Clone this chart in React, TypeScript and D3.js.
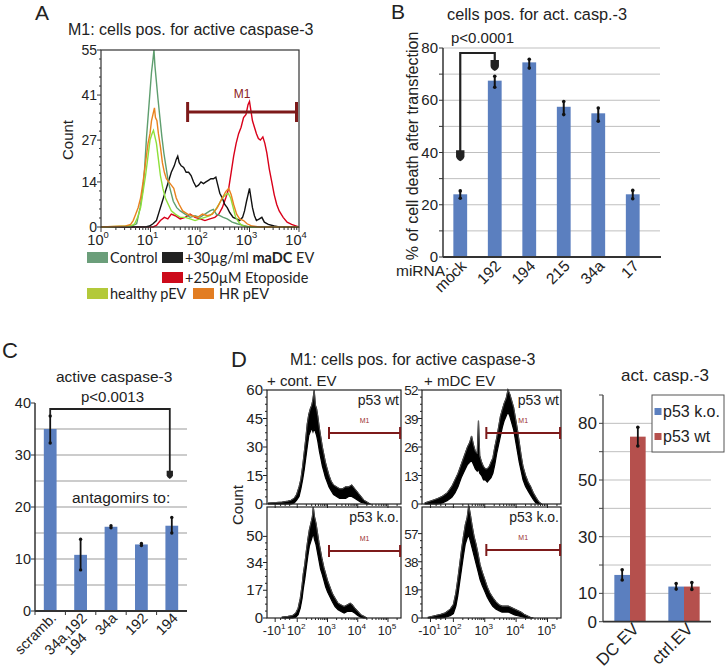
import React from "react";
import * as d3 from "d3";

const FONT = "'Liberation Sans', Arial, sans-serif";
const LFONT = "Lato, 'Open Sans', sans-serif";

// ---------- Panel A data (x in log10 units, y = count) ----------
const aYTicks = [0, 14, 27, 41, 55];
const aXExps = [0, 1, 2, 3, 4];
const aControl: [number, number][] = [[0,0],[0.5,0.2],[0.65,0.5],[0.72,1],[0.79,6],[0.84,11],[0.88,18],[0.92,28],[0.96,36],[0.99,42],[1.02,48],[1.05,52],[1.07,55],[1.09,50],[1.12,45],[1.15,40],[1.19,34],[1.23,28],[1.27,23],[1.31,19],[1.36,14],[1.41,11],[1.46,8],[1.53,6],[1.6,5],[1.7,4],[1.8,3],[1.9,3.5],[2.0,3],[2.1,4],[2.2,5],[2.27,5.5],[2.33,4],[2.4,3.5],[2.47,3],[2.55,2.5],[2.65,1.5],[2.75,1],[2.87,0.5],[3.0,0],[4,0]];
const aHealthy: [number, number][] = [[0,0],[0.6,0.3],[0.68,1],[0.74,3],[0.8,6],[0.85,11],[0.9,16],[0.95,22],[0.99,27],[1.03,29],[1.06,30],[1.09,28],[1.12,26],[1.16,21],[1.2,16],[1.25,12],[1.3,9],[1.36,7],[1.42,5],[1.5,4],[1.6,3],[1.7,3],[1.8,2.5],[1.9,2],[2.0,2.5],[2.1,3],[2.2,3.5],[2.3,5],[2.38,7],[2.45,9],[2.52,10],[2.57,10.5],[2.62,9],[2.67,6],[2.72,3],[2.78,1.5],[2.85,0.5],[2.95,0],[4,0]];
const aHR: [number, number][] = [[0,0],[0.5,0.3],[0.6,0.8],[0.65,2],[0.7,4],[0.75,6],[0.8,9],[0.85,14],[0.9,20],[0.95,26],[0.99,29],[1.02,33],[1.05,35],[1.08,37],[1.1,34],[1.13,33],[1.16,29],[1.2,25],[1.24,20],[1.28,17],[1.32,15],[1.37,14],[1.42,13],[1.47,12],[1.52,9],[1.58,7],[1.65,5],[1.75,4],[1.85,3.5],[1.95,3],[2.05,4],[2.15,3.5],[2.25,4],[2.35,6],[2.45,9],[2.52,11],[2.58,12],[2.63,10],[2.68,7],[2.74,4],[2.8,2.5],[2.88,2],[2.95,1],[3.05,0.3],[3.2,0],[4,0]];
const aMaDC: [number, number][] = [[0,0],[0.9,0],[0.98,0.3],[1.05,1],[1.12,2],[1.18,5],[1.24,8],[1.3,11],[1.36,14],[1.42,17],[1.48,19],[1.52,21],[1.55,22],[1.58,20],[1.62,19],[1.67,18.5],[1.72,17],[1.77,17],[1.82,16],[1.87,14],[1.92,12.5],[1.97,13],[2.02,14],[2.07,13.5],[2.12,14],[2.17,14.5],[2.22,15],[2.27,15],[2.32,15.5],[2.36,13],[2.4,10.5],[2.45,9],[2.5,7],[2.55,6],[2.6,4.5],[2.67,3],[2.74,2.5],[2.8,2],[2.86,3],[2.9,5],[2.94,8],[2.97,10],[3.0,12],[3.03,9],[3.06,6],[3.1,3.5],[3.14,2],[3.2,2.5],[3.25,3],[3.3,1.5],[3.38,0.8],[3.5,0.3],[3.6,0],[4,0]];
const aEtoposide: [number, number][] = [[0,0],[1.05,0],[1.12,0.5],[1.2,2],[1.28,3],[1.35,2.5],[1.42,4],[1.5,3.5],[1.6,2.5],[1.7,3],[1.8,4],[1.9,3],[2.0,2.5],[2.1,2],[2.2,2.5],[2.3,3],[2.38,4],[2.45,6],[2.52,9],[2.58,12],[2.63,17],[2.68,22],[2.73,26],[2.78,29],[2.83,31],[2.88,34],[2.93,35],[2.97,38],[3.0,39],[3.03,36],[3.06,33],[3.1,31],[3.14,29],[3.18,27.5],[3.22,27],[3.27,28],[3.31,26],[3.35,23],[3.4,18],[3.45,14],[3.5,10],[3.55,7],[3.6,5],[3.68,3],[3.76,1.5],[3.85,0.8],[3.95,0.3],[4,0]];
const aM1 = [1.75, 3.95];

// ---------- Panel B ----------
const bCategories = ["mock", "192", "194", "215", "34a", "17"];
const bValues = [24, 67.5, 74.5, 57.5, 55, 24];
const bErrLow = [22.5, 65, 72.3, 54.5, 52, 22.3];
const bErrHigh = [25.3, 69.2, 75.7, 59.5, 57, 25.5];
const bYTicks = [0, 20, 40, 60, 80];

// ---------- Panel C ----------
const cCategories = [["scramb."], ["34a,192", "194"], ["34a"], ["192"], ["194"]];
const cValues = [35, 10.8, 16.2, 12.8, 16.4];
const cErrLow = [32.3, 7.9, 16.0, 12.6, 15.0];
const cErrHigh = [37.5, 13.8, 16.4, 13.0, 18.0];
const cYTicks = [0, 10, 20, 30, 40];

// ---------- Panel D histograms: [display-log position, low, high] ----------
const dXTickPos = [1.27, 2, 3, 4, 5];
const dXTickBase = ["-10", "10", "10", "10", "10"];
const dXTickExp = ["1", "2", "3", "4", "5"];
const dContWt: [number, number, number][] = [[1.05,0,0.5],[1.3,0,0.8],[1.5,0,1],[1.7,0,1.5],[1.8,0,2],[1.9,0.5,3],[1.98,2,5],[2.06,4,9],[2.12,8,13],[2.18,13,20],[2.23,18,27],[2.28,24,34],[2.33,30,42],[2.38,36,47],[2.43,38,50],[2.48,40,52],[2.52,38,55],[2.56,40,60],[2.6,38,52],[2.64,36,50],[2.68,33,46],[2.73,28,40],[2.78,24,35],[2.83,20,30],[2.88,17,26],[2.93,14,22],[2.98,12,19],[3.05,9,15],[3.12,7,12],[3.2,5,10],[3.3,4,9],[3.4,3,8],[3.5,3,8],[3.6,3,9],[3.7,4,9],[3.8,4,10],[3.9,3,8],[4.0,2,6],[4.1,1,4],[4.2,0.5,2],[4.3,0,1],[4.4,0,0]];
const dContKo: [number, number, number][] = [[1.5,0,0.5],[1.7,0,1],[1.85,0,1.5],[1.95,0.5,3],[2.03,2,6],[2.1,6,12],[2.16,12,20],[2.2,18,27],[2.25,24,33],[2.3,31,41],[2.35,38,48],[2.4,44,54],[2.45,47,58],[2.5,50,62],[2.53,52,68],[2.57,48,62],[2.62,45,58],[2.67,40,52],[2.72,35,46],[2.77,30,41],[2.82,27,36],[2.88,23,31],[2.94,19,27],[3.0,16,23],[3.08,13,19],[3.16,10,15],[3.25,7,12],[3.35,5,9],[3.45,4,8],[3.55,3,7],[3.65,4,8],[3.75,4,9],[3.82,4,8],[3.9,3,6],[4.0,1.5,4],[4.1,0.5,2],[4.2,0,1],[4.3,0,0]];
const dMdcWt: [number, number, number][] = [[1.1,0,0.5],[1.3,0,1.5],[1.5,0,2.5],[1.65,0.5,3.5],[1.8,1.5,5],[1.95,3,8],[2.05,5,11],[2.15,8,14],[2.25,12,18],[2.35,15,22],[2.45,18,26],[2.52,19,28],[2.58,20,31],[2.64,18,27],[2.7,16,24],[2.76,15,23],[2.8,16,38],[2.84,14,22],[2.9,13,19],[2.96,11,17],[3.02,11,16],[3.08,10,16],[3.14,11,17],[3.2,12,19],[3.26,14,21],[3.32,18,26],[3.38,23,30],[3.44,27,35],[3.5,31,40],[3.56,35,43],[3.62,38,46],[3.68,40,48],[3.74,42,52],[3.8,40,50],[3.86,37,47],[3.92,34,44],[3.98,29,39],[4.04,24,34],[4.1,19,28],[4.16,15,22],[4.22,11,17],[4.3,8,13],[4.38,6,10],[4.46,4,8],[4.55,2,5],[4.63,0.5,3],[4.72,0,1],[4.8,0,0]];
const dMdcKo: [number, number, number][] = [[1.2,0,0.5],[1.4,0,1.5],[1.6,0,2.5],[1.75,0.5,3.5],[1.9,1.5,6],[2.0,3,9],[2.08,8,17],[2.14,15,26],[2.2,24,36],[2.26,33,46],[2.32,42,55],[2.38,50,63],[2.44,54,68],[2.49,56,76],[2.54,52,70],[2.6,47,62],[2.66,42,55],[2.72,37,50],[2.78,32,44],[2.85,26,36],[2.92,22,31],[3.0,18,26],[3.08,14,21],[3.16,11,17],[3.25,8,14],[3.35,6,11],[3.45,5,9],[3.55,4,8],[3.65,4,8],[3.75,4,8],[3.85,3,7],[3.95,2,6],[4.05,1.5,5],[4.15,1,4],[4.25,0.5,2.5],[4.35,0,1.5],[4.45,0,0.5],[4.55,0,0]];
const dM1 = [3.05, 5.4];

// ---------- Panel D bar chart ----------
const dGroups = ["DC EV", "ctrl.EV"];
const dSeries = ["p53 k.o.", "p53 wt"];
const dKo = [16.5, 12.4];
const dWt = [65.3, 12.4];
const dKoErr: [number, number][] = [[14.7, 18.3], [11.5, 13.5]];
const dWtErr: [number, number][] = [[62, 68.6], [11.4, 13.8]];
const dTickValues = [0, 10, 30, 50, 70];
const dTickLabels = ["0", "10", "30", "50", "80"];

const BLUE = "#5b7fbf";
const RED = "#b5504d";
const M1C = "#7d1a1a";

function Arrow({ x, y, s = 1 }: { x: number; y: number; s?: number }) {
  return (
    <path
      transform={`translate(${x},${y}) scale(${s})`}
      d="M-4.2,-11 L4.2,-11 L4.2,-5 Q4,-2 0,0 Q-4,-2 -4.2,-5 Z"
      fill="#222"
    />
  );
}

function Sup({ x, y, base, exp, size, anchor = "middle", family = FONT }: any) {
  return (
    <text x={x} y={y} fontSize={size} fontFamily={family} textAnchor={anchor} fill="#222">
      <tspan>{base}</tspan>
      <tspan dy={-size * 0.45} fontSize={size * 0.65}>{exp}</tspan>
    </text>
  );
}

function PanelA() {
  const x = d3.scaleLinear().domain([0, 4]).range([101, 299]);
  const y = d3.scaleLinear().domain([0, 55]).range([227, 50]);
  const line = d3.line<[number, number]>().x((d) => x(d[0])).y((d) => y(Math.max(0, d[1])));
  const minorX: number[] = [];
  for (let e = 0; e < 4; e++) for (let k = 2; k <= 9; k++) minorX.push(e + Math.log10(k));
  const minorY: number[] = [];
  for (let i = 0; i < aYTicks.length - 1; i++) {
    const a = aYTicks[i], b = aYTicks[i + 1];
    for (let j = 1; j < 5; j++) minorY.push(a + ((b - a) * j) / 5);
  }
  const series = [
    { d: aEtoposide, c: "#d9001a" },
    { d: aMaDC, c: "#111" },
    { d: aControl, c: "#5e9e6e" },
    { d: aHealthy, c: "#8ee03a" },
    { d: aHR, c: "#e8821e" },
  ];
  return (
    <g>
      <text x={35} y={20} fontSize={21} fontFamily={FONT} fill="#222">A</text>
      <text x={68} y={35} fontSize={16} fontFamily={FONT} fill="#222">M1: cells pos. for active caspase-3</text>
      {series.map((s, i) => (
        <path key={i} d={line(s.d) || ""} fill="none" stroke={s.c} strokeWidth={1.4} />
      ))}
      <rect x={101} y={50} width={198} height={177} fill="none" stroke="#333" strokeWidth={1.2} />
      {aYTicks.map((t) => (
        <g key={t}>
          <line x1={97} x2={101} y1={y(t)} y2={y(t)} stroke="#333" />
          <text x={97} y={y(t) + 5} fontSize={14} fontFamily={FONT} textAnchor="end" fill="#222">{t}</text>
        </g>
      ))}
      {minorY.map((t, i) => (
        <line key={i} x1={99} x2={101} y1={y(t)} y2={y(t)} stroke="#333" />
      ))}
      {aXExps.map((e) => (
        <g key={e}>
          <line x1={x(e)} x2={x(e)} y1={227} y2={232} stroke="#333" />
          <Sup x={x(e) - 3} y={245} base="10" exp={e} size={14.5} />
        </g>
      ))}
      {minorX.map((t, i) => (
        <line key={i} x1={x(t)} x2={x(t)} y1={227} y2={230} stroke="#333" />
      ))}
      <text x={73} y={140} fontSize={15} fontFamily={FONT} textAnchor="middle" transform="rotate(-90,73,140)" fill="#222">Count</text>
      {/* M1 marker */}
      <line x1={x(aM1[0])} x2={x(aM1[1])} y1={112} y2={112} stroke={M1C} strokeWidth={3} />
      <line x1={x(aM1[0])} x2={x(aM1[0])} y1={102} y2={122} stroke={M1C} strokeWidth={3} />
      <line x1={x(aM1[1])} x2={x(aM1[1])} y1={102} y2={122} stroke={M1C} strokeWidth={3} />
      <text x={(x(aM1[0]) + x(aM1[1])) / 2} y={98} fontSize={12} fontFamily={FONT} textAnchor="middle" fill="#8b2020">M1</text>
      {/* Legend */}
      <g fontFamily={LFONT} fontSize={14.5} fill="#222">
        <rect x={87} y={252} width={21} height={11} fill="#6b9e7a" />
        <text x={110} y={263}>Control</text>
        <rect x={162} y={252} width={21} height={11} fill="#222" />
        <text x={185} y={263}>
          <tspan>+30µg/ml </tspan>
          <tspan fontWeight="bold">maDC</tspan>
          <tspan> EV</tspan>
        </text>
        <rect x={162} y={272} width={21} height={11} fill="#cc0a1a" />
        <text x={185} y={283}>+250µM</text>
        <text x={245} y={283}>Etoposide</text>
        <rect x={87} y={288} width={21} height={11} fill="#b3c93a" />
        <text x={110} y={299}>healthy pEV</text>
        <rect x={193} y={288} width={21} height={11} fill="#e27d22" />
        <text x={219} y={299}>HR pEV</text>
      </g>
    </g>
  );
}

function PanelB() {
  const x = d3.scaleBand().domain(bCategories).range([443, 650]).paddingInner(0.6).paddingOuter(0.3);
  const y = d3.scaleLinear().domain([0, 80]).range([257, 48]);
  const grid = d3.range(10, 81, 10);
  const cx = (c: string) => (x(c) as number) + x.bandwidth() / 2;
  return (
    <g>
      <text x={391} y={19} fontSize={21} fontFamily={FONT} fill="#222">B</text>
      <text x={447} y={20} fontSize={16.3} fontFamily={FONT} fill="#222">cells pos. for act. casp.-3</text>
      {grid.map((g) => (
        <line key={g} x1={443} x2={660} y1={y(g)} y2={y(g)} stroke="#bfbfbf" strokeWidth={1} />
      ))}
      {bCategories.map((c, i) => (
        <g key={c}>
          <rect x={x(c)} y={y(bValues[i])} width={x.bandwidth()} height={y(0) - y(bValues[i])} fill={BLUE} />
          <line x1={cx(c)} x2={cx(c)} y1={y(bErrLow[i])} y2={y(bErrHigh[i])} stroke="#111" strokeWidth={2} />
          <circle cx={cx(c)} cy={y(bErrLow[i])} r={1.8} fill="#111" />
          <circle cx={cx(c)} cy={y(bErrHigh[i])} r={1.8} fill="#111" />
          <text
            transform={`translate(${cx(c) + 7},${267}) rotate(-45)`}
            fontSize={15.5}
            fontFamily={FONT}
            textAnchor="end"
            fill="#222"
          >{c}</text>
        </g>
      ))}
      <line x1={443} x2={443} y1={48} y2={257} stroke="#333" strokeWidth={1.5} />
      <line x1={443} x2={661} y1={257} y2={257} stroke="#333" strokeWidth={1.8} />
      {d3.range(0, 81, 10).map((t) => (
        <line key={t} x1={439} x2={443} y1={y(t)} y2={y(t)} stroke="#333" />
      ))}
      {bYTicks.map((t) => (
        <text key={t} x={438} y={y(t) + 5} fontSize={15} fontFamily={FONT} textAnchor="end" fill="#222">{t}</text>
      ))}
      <text
        transform={`translate(418,146) rotate(-90)`}
        fontSize={16}
        fontFamily={FONT}
        textAnchor="middle"
        fill="#222"
      >% of cell death after transfection</text>
      <text x={396} y={276} fontSize={15.5} fontFamily={FONT} fill="#222">miRNA:</text>
      {/* significance bracket */}
      <path
        d={`M${cx("mock")},${y(bValues[0]) - 35} V53 H${cx("192")} V${62}`}
        fill="none"
        stroke="#222"
        strokeWidth={2.2}
      />
      <Arrow x={cx("mock")} y={y(bValues[0]) - 33} />
      <Arrow x={cx("192")} y={71} />
      <text x={451} y={43} fontSize={15} fontFamily={FONT} fill="#222">p&lt;0.0001</text>
    </g>
  );
}

function PanelC() {
  const keys = cCategories.map((c) => c.join(" "));
  const x = d3.scaleBand().domain(keys).range([35, 187]).paddingInner(0.58).paddingOuter(0.29);
  const y = d3.scaleLinear().domain([0, 40]).range([611, 403]);
  const cx = (k: string) => (x(k) as number) + x.bandwidth() / 2;
  return (
    <g>
      <text x={2} y={358} fontSize={22} fontFamily={FONT} fill="#222">C</text>
      <text x={56} y={382} fontSize={15.5} fontFamily={FONT} fill="#222">active caspase-3</text>
      <text x={81} y={402} fontSize={15} fontFamily={FONT} fill="#222">p&lt;0.0013</text>
      {d3.range(5, 36, 5).map((g) => (
        <line key={g} x1={35} x2={187} y1={y(g)} y2={y(g)} stroke="#999" strokeWidth={1} />
      ))}
      {keys.map((k, i) => (
        <g key={k}>
          <rect x={x(k)} y={y(cValues[i])} width={x.bandwidth()} height={y(0) - y(cValues[i])} fill={BLUE} />
          <line x1={cx(k)} x2={cx(k)} y1={y(cErrLow[i])} y2={y(cErrHigh[i])} stroke="#111" strokeWidth={1.8} />
          <circle cx={cx(k)} cy={y(cErrLow[i])} r={1.7} fill="#111" />
          <circle cx={cx(k)} cy={y(cErrHigh[i])} r={1.7} fill="#111" />
          <text
            transform={`translate(${cx(k) + 7},${619}) rotate(-45)`}
            fontSize={14.5}
            fontFamily={FONT}
            textAnchor="end"
            fill="#222"
          >
            {cCategories[i].map((line, j) => (
              <tspan key={j} x={j === 0 ? 0 : -14} dy={j === 0 ? 0 : 14}>{line}</tspan>
            ))}
          </text>
        </g>
      ))}
      <line x1={35} x2={35} y1={403} y2={611} stroke="#333" strokeWidth={1.5} />
      <line x1={35} x2={187} y1={611} y2={611} stroke="#333" strokeWidth={1.8} />
      {d3.range(0, 41, 10).map((t) => (
        <line key={t} x1={31} x2={35} y1={y(t)} y2={y(t)} stroke="#333" />
      ))}
      {keys.map((k, i) => (
        <line key={i} x1={(x(k) as number) - (x.step() - x.bandwidth()) / 2} x2={(x(k) as number) - (x.step() - x.bandwidth()) / 2} y1={611} y2={615} stroke="#333" />
      ))}
      {cYTicks.map((t) => (
        <text key={t} x={31} y={y(t) + 5} fontSize={14.5} fontFamily={FONT} textAnchor="end" fill="#222">{t}</text>
      ))}
      <text x={72} y={503} fontSize={15.5} fontFamily={FONT} fill="#222">antagomirs to:</text>
      <path
        d={`M${cx(keys[0])},${y(cErrHigh[0]) - 1} V409 H${cx(keys[4]) - 2} V${471}`}
        fill="none"
        stroke="#222"
        strokeWidth={1.8}
      />
      <Arrow x={cx(keys[4]) - 2} y={479} s={0.75} />
    </g>
  );
}

function Hist({ x0, x1, yTop, yBot, yMax, yTicks, data, label, tickSize, showXLabels, m1Y }: any) {
  const x = d3.scaleLinear().domain([1, 5.43]).range([x0, x1]);
  const y = d3.scaleLinear().domain([0, yMax]).range([yBot, yTop]);
  const area = d3
    .area<[number, number, number]>()
    .x((d) => x(d[0]))
    .y0((d) => y(d[1]))
    .y1((d) => y(d[2]));
  const hi = d3.line<[number, number, number]>().x((d) => x(d[0])).y((d) => y(d[2]));
  const minorY: number[] = [];
  for (let i = 0; i < yTicks.length - 1; i++) {
    const a = yTicks[i], b = yTicks[i + 1];
    for (let j = 1; j < 4; j++) minorY.push(a + ((b - a) * j) / 4);
  }
  const minorX: number[] = [];
  for (let e = 2; e < 6; e++) for (let k = 2; k <= 9; k++) { const v = e + Math.log10(k); if (v < 5.43) minorX.push(v); }
  [1.45, 1.6, 1.75].forEach((v) => minorX.push(v));
  return (
    <g>
      <path d={area(data) || ""} fill="#000" stroke="#000" strokeWidth={1.2} />
      <path d={hi(data) || ""} fill="none" stroke="#666" strokeWidth={0.8} />
      <rect x={x0} y={yTop} width={x1 - x0} height={yBot - yTop} fill="none" stroke="#222" strokeWidth={1.2} />
      {yTicks.map((t: number) => (
        <g key={t}>
          <line x1={x0 - 4} x2={x0} y1={y(t)} y2={y(t)} stroke="#222" />
          <text x={x0 - 4} y={y(t) + 5} fontSize={tickSize} fontFamily={FONT} textAnchor="end" fill="#222" letterSpacing={tickSize < 15 ? -0.6 : 0}>{t}</text>
        </g>
      ))}
      {minorY.map((t, i) => (
        <line key={i} x1={x0 - 2} x2={x0} y1={y(t)} y2={y(t)} stroke="#222" />
      ))}
      {dXTickPos.map((p, i) => (
        <line key={i} x1={x(p)} x2={x(p)} y1={yBot} y2={yBot + 4} stroke="#222" />
      ))}
      {minorX.map((p, i) => (
        <line key={i} x1={x(p)} x2={x(p)} y1={yBot} y2={yBot + 2} stroke="#222" />
      ))}
      {showXLabels &&
        dXTickPos.map((p, i) => (
          <Sup key={i} x={x(p) - 1} y={yBot + 17} base={dXTickBase[i]} exp={dXTickExp[i]} size={12.5} />
        ))}
      <text x={x1 - 2} y={yTop + 15} fontSize={14} fontFamily={FONT} textAnchor="end" fill="#222">{label}</text>
      <line x1={x(dM1[0])} x2={x(dM1[1])} y1={m1Y} y2={m1Y} stroke={M1C} strokeWidth={2} />
      <line x1={x(dM1[0])} x2={x(dM1[0])} y1={m1Y - 6} y2={m1Y + 6} stroke={M1C} strokeWidth={2} />
      <line x1={x(dM1[1])} x2={x(dM1[1])} y1={m1Y - 6} y2={m1Y + 6} stroke={M1C} strokeWidth={2} />
      <text x={(x(dM1[0]) + x(dM1[1])) / 2} y={m1Y - 10} fontSize={7} fontFamily={FONT} textAnchor="middle" fill="#9b3030">M1</text>
    </g>
  );
}

function PanelDHist() {
  return (
    <g>
      <text x={231} y={367} fontSize={22} fontFamily={FONT} fill="#222">D</text>
      <text x={290} y={365} fontSize={16} fontFamily={FONT} fill="#222">M1: cells pos. for active caspase-3</text>
      <text x={267} y={386} fontSize={15} fontFamily={FONT} fill="#222">+ cont. EV</text>
      <text x={424} y={386} fontSize={15} fontFamily={FONT} fill="#222">+ mDC EV</text>
      <text transform="translate(243,505) rotate(-90)" fontSize={15} fontFamily={FONT} textAnchor="middle" fill="#222">Count</text>
      <Hist x0={267} x1={401} yTop={390} yBot={504} yMax={60} yTicks={[0, 15, 30, 45, 60]} data={dContWt} label="p53 wt" tickSize={15} showXLabels={false} m1Y={433} />
      <Hist x0={267} x1={401} yTop={507} yBot={618} yMax={68} yTicks={[0, 17, 34, 50]} data={dContKo} label="p53 k.o." tickSize={15} showXLabels={true} m1Y={551} />
      <Hist x0={422} x1={561} yTop={390} yBot={504} yMax={52} yTicks={[0, 13, 26, 39, 52]} data={dMdcWt} label="p53 wt" tickSize={13.5} showXLabels={false} m1Y={433} />
      <Hist x0={422} x1={561} yTop={507} yBot={618} yMax={75} yTicks={[0, 19, 38, 57]} data={dMdcKo} label="p53 k.o." tickSize={13.5} showXLabels={true} m1Y={550} />
    </g>
  );
}

function PanelDBar() {
  const x0 = d3.scaleBand().domain(dGroups).range([603, 711]).paddingInner(0.42).paddingOuter(0.21);
  const x1 = d3.scaleBand().domain(dSeries).range([0, x0.bandwidth()]);
  const y = d3.scaleLinear().domain([0, 80]).range([621.7, 395]);
  const series = [
    { vals: dKo, errs: dKoErr, c: BLUE, key: dSeries[0] },
    { vals: dWt, errs: dWtErr, c: RED, key: dSeries[1] },
  ];
  return (
    <g>
      <text x={621} y={381} fontSize={17} fontFamily={FONT} fill="#222">act. casp.-3</text>
      {d3.range(10, 71, 10).map((g) => (
        <line key={g} x1={603} x2={711} y1={y(g)} y2={y(g)} stroke="#bfbfbf" />
      ))}
      {dGroups.map((g, gi) => (
        <g key={g}>
          {series.map((s) => {
            const bx = (x0(g) as number) + (x1(s.key) as number);
            const cx = bx + x1.bandwidth() / 2;
            return (
              <g key={s.key}>
                <rect x={bx} y={y(s.vals[gi])} width={x1.bandwidth()} height={y(0) - y(s.vals[gi])} fill={s.c} />
                <line x1={cx} x2={cx} y1={y(s.errs[gi][0])} y2={y(s.errs[gi][1])} stroke="#111" strokeWidth={1.8} />
                <circle cx={cx} cy={y(s.errs[gi][0])} r={1.8} fill="#111" />
                <circle cx={cx} cy={y(s.errs[gi][1])} r={1.8} fill="#111" />
              </g>
            );
          })}
          <text
            transform={`translate(${(x0(g) as number) + x0.bandwidth() / 2 + 10},${630}) rotate(-45)`}
            fontSize={17}
            fontFamily={FONT}
            textAnchor="end"
            fill="#222"
          >{g}</text>
        </g>
      ))}
      <line x1={603} x2={603} y1={395} y2={621.7} stroke="#444" strokeWidth={1.3} />
      <line x1={603} x2={711} y1={621.7} y2={621.7} stroke="#333" strokeWidth={1.8} />
      {d3.range(0, 81, 10).map((t) => (
        <line key={t} x1={599} x2={603} y1={y(t)} y2={y(t)} stroke="#444" />
      ))}
      {dTickValues.map((t, i) => (
        <text key={t} x={597} y={y(t) + 6} fontSize={17} fontFamily={FONT} textAnchor="end" fill="#222">{dTickLabels[i]}</text>
      ))}
      <rect x={652} y={395} width={72} height={57} fill="#fff" stroke="#555" strokeWidth={1} />
      <rect x={654.5} y={408} width={7} height={7} fill={BLUE} />
      <text x={663} y={417} fontSize={16} fontFamily={FONT} fill="#222">{dSeries[0]}</text>
      <rect x={654.5} y={433} width={7} height={7} fill={RED} />
      <text x={663} y={442} fontSize={16} fontFamily={FONT} fill="#222">{dSeries[1]}</text>
    </g>
  );
}

export default function App() {
  return (
    <div style={{ position: "absolute", left: 0, top: 0 }}>
      <svg width={725} height={670} style={{ display: "block", background: "#fff" }}>
        <PanelA />
        <PanelB />
        <PanelC />
        <PanelDHist />
        <PanelDBar />
      </svg>
    </div>
  );
}
